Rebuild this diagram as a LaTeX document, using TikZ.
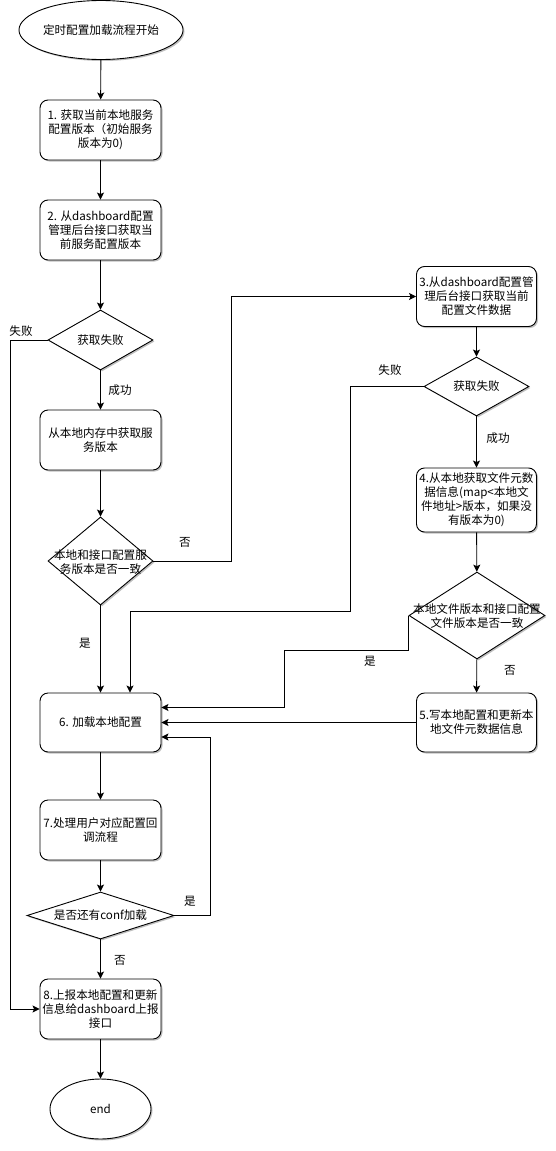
\documentclass[tikz,border=0pt]{standalone}
\usepackage{fontspec}
\setmainfont{Noto Sans CJK SC}
\usetikzlibrary{shapes.geometric,arrows.meta,shadows}
\newcommand\dfont{\fontsize{11.6}{14}\selectfont}
\begin{document}
\begin{tikzpicture}[x=1pt,y=-1pt,
  line width=0.9pt,
  shd/.style={drop shadow={shadow xshift=1.5pt,shadow yshift=-1.5pt,opacity=0.25,fill=black}},
  box/.style={draw,rounded corners=8pt,minimum width=121pt,minimum height=60pt,align=center,inner sep=0pt,font=\dfont,fill=white,shd},
  dia/.style={draw,diamond,inner sep=0pt,fill=white,shd},
  oval/.style={draw,ellipse,inner sep=0pt,font=\dfont,fill=white,shd},
  txt/.style={align=center,font=\dfont,inner sep=0pt},
  lbl/.style={font=\dfont,inner sep=0pt},
  arr/.style={-{Stealth[length=7pt,width=7pt,inset=1.5pt]}}]
\useasboundingbox (0,0) rectangle (556,1151);

% left column
\node[oval,minimum width=130pt,minimum height=59pt] (start) at (101,30) {定时配置加载流程开始};
\node[box] (b1) at (100.5,130) {1. 获取当前本地服务\\配置版本（初始服务\\版本为0)};
\node[box] (b2) at (100.5,230) {2. 从dashboard配置\\管理后台接口获取当\\前服务配置版本};
\node[dia,minimum width=105pt,minimum height=60pt] (d1) at (100.5,340) {};
\node[txt] (d1t) at (d1) {获取失败};
\node[box] (bm) at (100.5,440) {从本地内存中获取服\\务版本};
\node[dia,minimum width=105pt,minimum height=88pt] (d2) at (100.5,561) {};
\node[txt] (d2t) at (100.5,562) {本地和接口配置服\\务版本是否一致};
\node[box,minimum height=59pt] (b6) at (100.5,722.5) {6. 加载本地配置};
\node[box] (b7) at (100.5,830) {7.处理用户对应配置回\\调流程};
\node[dia,minimum width=147pt,minimum height=47pt] (d5) at (100.5,915.5) {};
\node[txt] (d5t) at (d5) {是否还有conf加载};
\node[box] (b8) at (100.5,1009) {8.上报本地配置和更新\\信息给dashboard上报\\接口};
\node[oval,minimum width=101pt,minimum height=60pt] (end) at (100.5,1109) {end};

% right column
\node[box,minimum width=120pt] (b3) at (476.5,296.5) {3.从dashboard配置管\\理后台接口获取当前\\配置文件数据};
\node[dia,minimum width=105pt,minimum height=59pt] (d3) at (476.5,386.5) {};
\node[txt] (d3t) at (d3) {获取失败};
\node[box,minimum width=120pt,minimum height=64pt] (b4) at (476.5,500) {4.从本地获取文件元数\\据信息(map<本地文\\件地址>版本，如果没\\有版本为0)};
\node[dia,minimum width=136pt,minimum height=87pt] (d4) at (477,615.5) {};
\node[txt] (d4t) at (477,616) {本地文件版本和接口配置\\文件版本是否一致};
\node[box,minimum width=120pt,minimum height=59pt] (b5) at (476.5,722.5) {5.写本地配置和更新本\\地文件元数据信息};

% connectors
\draw[arr] (start) -- (b1);
\draw[arr] (b1) -- (b2);
\draw[arr] (b2) -- (d1);
\draw[arr] (d1.west) -- ++(-37.5,0) |- (b8.west);
\draw[arr] (d1) -- (bm);
\draw[arr] (bm) -- (d2);
\draw[arr] (d2.east) -- ++(78,0) |- (b3.west);
\draw[arr] (b3) -- (d3);
\draw[arr] (d3.west) -- ++(-73,0) -- ++(0,224.5) -| ([xshift=29.5pt]b6.north);
\draw[arr] (d3) -- (b4);
\draw[arr] (b4) -- (d4);
\draw[arr] (d4.west) -- ++(0,35) -- ++(-124,0) |- ([yshift=15pt]b6.east);
\draw[arr] (d4) -- (b5);
\draw[arr] (b5.west) -- (b6.east);
\draw[arr] (d2) -- (b6);
\draw[arr] (b6) -- (b7);
\draw[arr] (b7) -- (d5);
\draw[arr] (d5.east) -- ++(36,0) |- ([yshift=-14.5pt]b6.east);
\draw[arr] (d5) -- (b8);
\draw[arr] (b8) -- (end);

% labels
\node[lbl] (l1) at (21,331) {失败};
\node[lbl] (l2) at (120,390) {成功};
\node[lbl] (l3) at (185,542) {否};
\node[lbl] (l4) at (85,643) {是};
\node[lbl] (l5) at (390,370) {失败};
\node[lbl] (l6) at (498,438) {成功};
\node[lbl] (l7) at (370,661) {是};
\node[lbl] (l8) at (510,670) {否};
\node[lbl] (l9) at (190,901) {是};
\node[lbl] (l10) at (120,960) {否};
\end{tikzpicture}
\end{document}
